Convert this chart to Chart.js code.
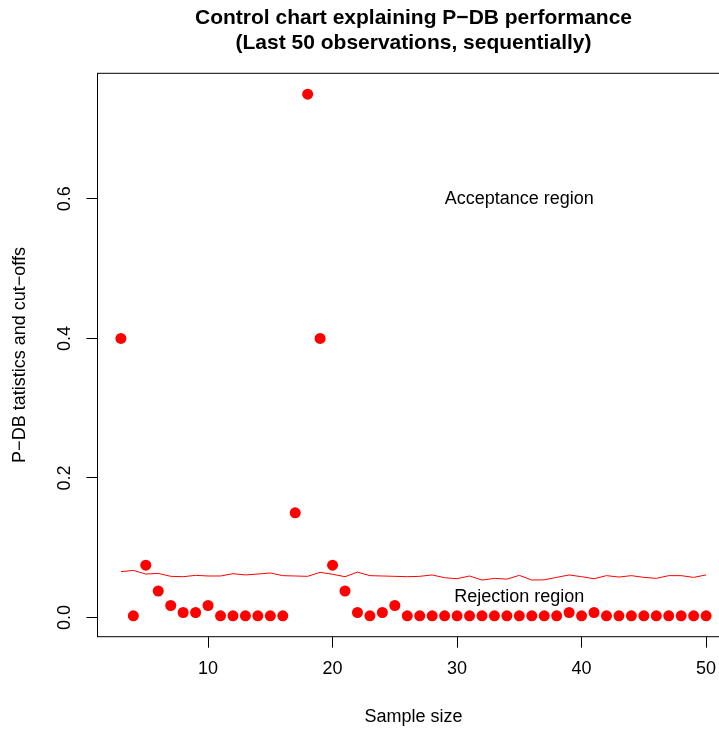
<!DOCTYPE html>
<html>
<head>
<meta charset="utf-8">
<script src="https://cdn.jsdelivr.net/npm/chart.js@4/dist/chart.umd.min.js"></script>
<style>
  html, body { margin: 0; padding: 0; overflow: hidden; background: #fff; }
  canvas { display: block; }
</style>
</head>
<body>
<canvas id="c" width="740" height="730"></canvas>
<script>
const sampleSize = [3,4,5,6,7,8,9,10,11,12,13,14,15,16,17,18,19,20,21,22,23,24,25,26,
  27,28,29,30,31,32,33,34,35,36,37,38,39,40,41,42,43,44,45,46,47,48,49,50];
const pdbStatistic = [0.40,0.0024,0.075,0.038,0.0172,0.0072,0.0072,0.0172,0.0024,0.0024,0.0024,0.0024,
  0.0024,0.0024,0.15,0.75,0.40,0.075,0.038,0.0072,0.0024,0.0072,0.0172,0.0024,
  0.0024,0.0024,0.0024,0.0024,0.0024,0.0024,0.0024,0.0024,0.0024,0.0024,0.0024,0.0024,
  0.0072,0.0024,0.0072,0.0024,0.0024,0.0024,0.0024,0.0024,0.0024,0.0024,0.0024,0.0024];
const cutOff = [0.0657,0.0675,0.0623,0.0632,0.059,0.0585,0.0604,0.0595,0.0595,0.0628,0.061,0.0623,
  0.0638,0.06,0.0595,0.059,0.0647,0.062,0.0585,0.065,0.06,0.0595,0.059,0.0585,
  0.059,0.061,0.057,0.0556,0.0595,0.0537,0.0561,0.055,0.0604,0.0537,0.054,0.0575,
  0.061,0.0585,0.0556,0.06,0.058,0.06,0.0575,0.0561,0.06,0.06,0.0575,0.061];
const xTicks = [10, 20, 30, 40, 50];
const yTicks = [0.0, 0.2, 0.4, 0.6];
const regionLabels = ["Acceptance region", "Rejection region"];
const regionX = [35, 35];
const regionY = [0.6, 0.03];

const FONT = "'Liberation Sans', Arial, Helvetica, sans-serif";

const boxPlugin = {
  id: 'rbox',
  afterDatasetsDraw(chart) {
    const {ctx, chartArea: a, scales} = chart;
    ctx.save();
    ctx.strokeStyle = '#000';
    ctx.lineWidth = 1;
    ctx.strokeRect(a.left, a.top, a.right - a.left, a.bottom - a.top);
    ctx.fillStyle = '#000';
    ctx.font = '18px ' + FONT;
    ctx.textAlign = 'center';
    ctx.textBaseline = 'middle';
    regionLabels.forEach((t, i) => {
      ctx.fillText(t, scales.x.getPixelForValue(regionX[i]), scales.y.getPixelForValue(regionY[i]));
    });
    ctx.restore();
  }
};

new Chart(document.getElementById('c'), {
  data: {
    datasets: [
      {
        type: 'scatter',
        label: 'P-DB statistic',
        data: sampleSize.map((x, i) => ({x, y: pdbStatistic[i]})),
        backgroundColor: '#ff0000',
        borderWidth: 0,
        pointRadius: 5.5,
        pointHoverRadius: 5.5
      },
      {
        type: 'line',
        label: 'Cut-off',
        data: sampleSize.map((x, i) => ({x, y: cutOff[i]})),
        borderColor: '#ff0000',
        borderWidth: 1,
        pointRadius: 0,
        tension: 0,
        fill: false
      }
    ]
  },
  options: {
    responsive: false,
    animation: false,
    devicePixelRatio: 1,
    layout: { padding: { left: 0, right: 10.5, top: 0, bottom: 0 } },
    plugins: {
      legend: { display: false },
      tooltip: { enabled: false },
      title: {
        display: true,
        fullSize: false,
        text: ['Control chart explaining P\u2212DB performance', '(Last 50 observations, sequentially)'],
        color: '#000',
        font: { family: FONT, size: 21, weight: 'bold', lineHeight: '25px' },
        padding: { top: 5.5, bottom: 17.8 }
      }
    },
    scales: {
      x: {
        type: 'linear',
        position: 'bottom',
        min: 1.12,
        max: 51.88,
        afterBuildTicks: s => { s.ticks = xTicks.map(v => ({value: v})); },
        afterFit: s => { s.height = 93.3; },
        ticks: {
          color: '#000',
          font: { family: FONT, size: 18 },
          padding: 11,
          maxRotation: 0,
          minRotation: 0,
          callback: v => String(v)
        },
        grid: { display: true, drawOnChartArea: false, drawTicks: true, tickLength: 11, color: '#000', lineWidth: 1 },
        border: { display: false },
        title: {
          display: true,
          text: 'Sample size',
          color: '#000',
          font: { family: FONT, size: 18 },
          padding: { top: 0, bottom: 2 }
        }
      },
      y: {
        type: 'linear',
        position: 'left',
        min: -0.0275,
        max: 0.7799,
        afterBuildTicks: s => { s.ticks = yTicks.map(v => ({value: v})); },
        afterFit: s => { s.width = 97.5; },
        ticks: {
          color: '#000',
          font: { family: FONT, size: 18 },
          padding: 9,
          minRotation: 90,
          maxRotation: 90,
          crossAlign: 'center',
          callback: v => v.toFixed(1)
        },
        grid: { display: true, drawOnChartArea: false, drawTicks: true, tickLength: 11, color: '#000', lineWidth: 1 },
        border: { display: false },
        title: {
          display: true,
          text: 'P\u2212DB tatistics and cut\u2212offs',
          color: '#000',
          font: { family: FONT, size: 18 },
          padding: { top: 9.2, bottom: 0 }
        }
      }
    }
  },
  plugins: [boxPlugin]
});
</script>
</body>
</html>
